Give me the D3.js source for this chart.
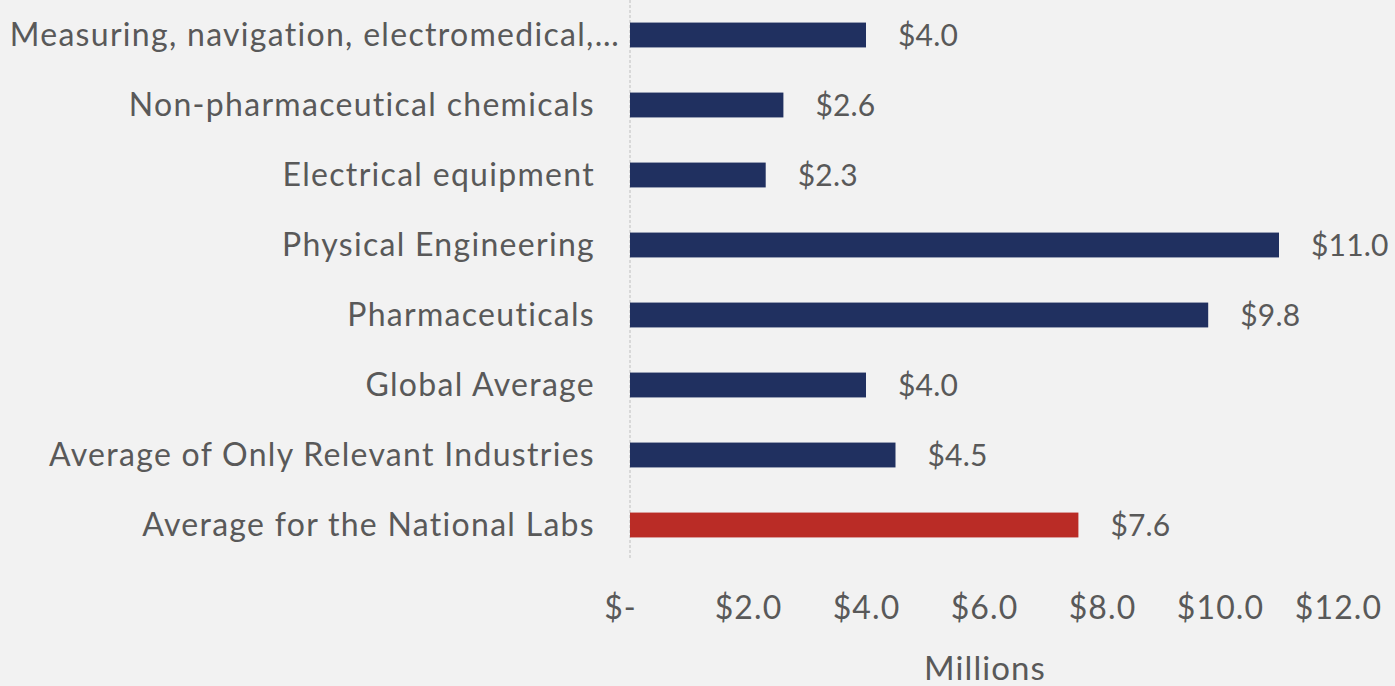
<!DOCTYPE html>
<html>
<head>
<meta charset="utf-8">
<script src="https://cdn.jsdelivr.net/npm/d3@7"></script>
<style>
  html, body { margin: 0; padding: 0; background: #f2f2f2; }
  svg { display: block; }
  text { font-family: Lato, "Open Sans", sans-serif; fill: #595959; letter-spacing: 1.1px; }
</style>
</head>
<body>
<svg id="chart" width="1395" height="686"></svg>
<script>
const categories = [
  "Measuring, navigation, electromedical,\u2026",
  "Non-pharmaceutical chemicals",
  "Electrical equipment",
  "Physical Engineering",
  "Pharmaceuticals",
  "Global Average",
  "Average of Only Relevant Industries",
  "Average for the National Labs"
];
const values = [4.0, 2.6, 2.3, 11.0, 9.8, 4.0, 4.5, 7.6];
const highlight = [false, false, false, false, false, false, false, true];
const tickValues = [0, 2, 4, 6, 8, 10, 12];
const axisTitle = "Millions";

const svg = d3.select("#chart");
const W = 1395, H = 686;
svg.append("rect").attr("width", W).attr("height", H).attr("fill", "#f2f2f2");

const x = d3.scaleLinear().domain([0, 12]).range([630, 1338]);
const y = d3.scaleBand().domain(categories).range([0, 560]).paddingInner(0.645).paddingOuter(0.3225);

// vertical dashed axis line
svg.append("line")
  .attr("x1", x(0)).attr("x2", x(0))
  .attr("y1", 0).attr("y2", 560)
  .attr("stroke", "#cfcfcf").attr("stroke-width", 1.5)
  .attr("stroke-dasharray", "3,2");

const data = categories.map((c, i) => ({ c, v: values[i], h: highlight[i] }));

svg.selectAll("rect.bar").data(data).join("rect")
  .attr("class", "bar")
  .attr("x", x(0))
  .attr("y", d => y(d.c))
  .attr("width", d => x(d.v) - x(0))
  .attr("height", y.bandwidth())
  .attr("fill", d => d.h ? "#ba2c26" : "#203060");

// value labels
svg.selectAll("text.val").data(data).join("text")
  .attr("class", "val")
  .attr("x", d => x(d.v) + 32)
  .attr("y", d => y(d.c) + y.bandwidth() / 2)
  .attr("dy", "0.35em")
  .attr("font-size", 30)
  .style("letter-spacing", "0.2px")
  .text(d => "$" + d.v.toFixed(1));

// category labels
const yAxis = d3.axisLeft(y).tickSize(0).tickPadding(0);
const gy = svg.append("g").attr("transform", "translate(595,0)").call(yAxis);
gy.select(".domain").remove();
gy.selectAll("text")
  .attr("font-size", 32)
  .attr("font-family", "Lato, sans-serif")
  .attr("fill", "#595959")
  .style("letter-spacing", "1.3px")
  .attr("dy", "0.35em")
  .attr("x", d => d.endsWith("\u2026") ? 25 : 0);

// x axis tick labels
const xAxis = d3.axisBottom(x).tickValues(tickValues).tickSize(0).tickPadding(0)
  .tickFormat(d => d === 0 ? "$-" : "$" + d.toFixed(1));
const gx = svg.append("g").attr("transform", "translate(0,608)").call(xAxis);
gx.select(".domain").remove();
gx.selectAll("text")
  .attr("font-size", 32)
  .attr("font-family", "Lato, sans-serif")
  .attr("fill", "#595959")
  .attr("y", 0)
  .attr("dy", "0.35em")
  .attr("dx", d => d === 0 ? -10 : 0);

svg.append("text")
  .attr("x", 985).attr("y", 680)
  .attr("text-anchor", "middle")
  .attr("font-size", 33)
  .text(axisTitle);
</script>
</body>
</html>
